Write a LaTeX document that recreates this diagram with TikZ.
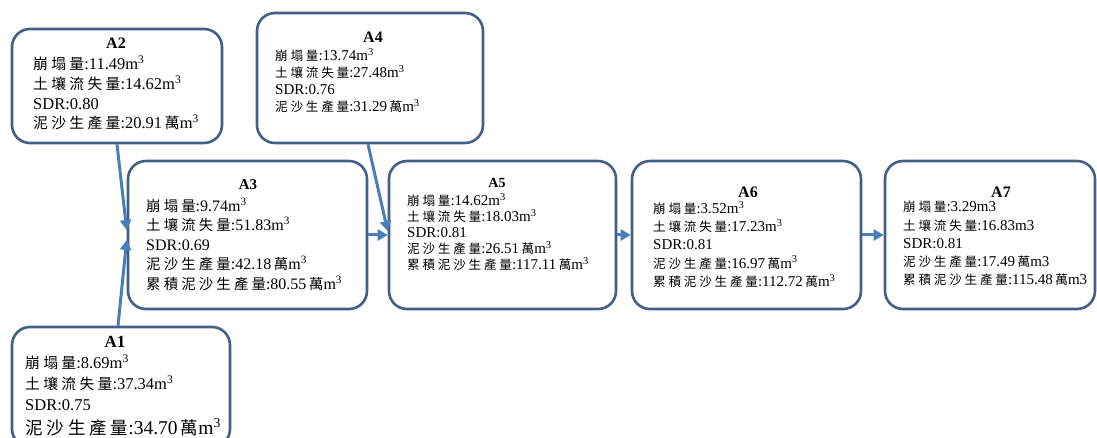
\documentclass[tikz,border=0pt]{standalone}
\usepackage{fontspec}
\setmainfont{Liberation Serif}
\newfontfamily\zhf[Scale=0.9,LetterSpace=22]{Noto Sans CJK TC}
\newfontfamily\zhs[Scale=0.84,LetterSpace=22]{Noto Sans CJK TC}
\let\zhcur\zhf
\newcommand{\zh}[1]{{\zhcur #1}}
\newcommand{\wan}{\,\zh{萬}}
\newcommand{\mthree}{m\textsuperscript{3}}
\usetikzlibrary{arrows.meta}
\definecolor{boxc}{RGB}{66,95,136}
\definecolor{arrc}{RGB}{74,126,187}
\begin{document}
\begin{tikzpicture}[x=1pt,y=-1pt,
  box/.style={draw=boxc, line width=2.6pt, rounded corners=18pt, fill=white, inner sep=0pt},
  conn/.style={draw=arrc, line width=3pt, -{Triangle[length=10pt,width=11pt]}},
  ttl/.style={font=\fontsize{#1}{#1}\selectfont\bfseries, inner sep=0pt},
  txt/.style 2 args={anchor=north west, align=left, inner sep=0pt, font=\fontsize{#1}{#2}\selectfont},
  small/.style={font=\fontsize{15}{#1}\selectfont\let\zhcur\zhs}
]
\useasboundingbox (0,0) rectangle (1097,438);
\clip (0,0) rectangle (1097,438);
\fill[white] (0,0) rectangle (1097,438);

% boxes
\node[box, minimum width=210pt, minimum height=114pt] (A2) at (117,86) {};
\node[box, minimum width=226pt, minimum height=130pt] (A4) at (370,78) {};
\node[box, minimum width=239pt, minimum height=148pt] (A3) at (247.5,235) {};
\node[box, minimum width=227pt, minimum height=148pt] (A5) at (502.5,235) {};
\node[box, minimum width=229pt, minimum height=148pt] (A6) at (746.5,235) {};
\node[box, minimum width=210pt, minimum height=148pt] (A7) at (990,235) {};
\node[box, minimum width=218pt, minimum height=120pt] (A1) at (121,387) {};

% titles
\node[ttl=16] (A2t) at (116,43) {A2};
\node[ttl=16] (A4t) at (373,37) {A4};
\node[ttl=15] (A3t) at (248,185) {A3};
\node[ttl=14] (A5t) at (497,183) {A5};
\node[ttl=16] (A6t) at (748,192) {A6};
\node[ttl=16] (A7t) at (1001,192) {A7};
\node[ttl=17] (A1t) at (115,342) {A1};

% bodies
\node[txt={16.5}{19.7}] (A2b) at (33,55.5) {\zh{崩塌量}:11.49\mthree\\ \zh{土壤流失量}:14.62\mthree\\ SDR:0.80\\ \zh{泥沙生產量}:20.91\wan\mthree};
\node[txt={15}{17}, small=17] (A4b) at (275,48.5) {\zh{崩塌量}:13.74\mthree\\ \zh{土壤流失量}:27.48\mthree\\ SDR:0.76\\ \zh{泥沙生產量}:31.29\wan\mthree};
\node[txt={16}{19.5}] (A3b) at (146,197.5) {\zh{崩塌量}:9.74\mthree\\ \zh{土壤流失量}:51.83\mthree\\ SDR:0.69\\ \zh{泥沙生產量}:42.18\wan\mthree\\ \zh{累積泥沙生產量}:80.55\wan\mthree};
\node[txt={15}{16}, small=16] (A5b) at (407,193.5) {\zh{崩塌量}:14.62\mthree\\ \zh{土壤流失量}:18.03\mthree\\ SDR:0.81\\ \zh{泥沙生產量}:26.51\wan\mthree\\ \zh{累積泥沙生產量}:117.11\wan\mthree};
\node[txt={15}{18.25}, small=18.25] (A6b) at (653,201) {\zh{崩塌量}:3.52\mthree\\ \zh{土壤流失量}:17.23\mthree\\ SDR:0.81\\ \zh{泥沙生產量}:16.97\wan\mthree\\ \zh{累積泥沙生產量}:112.72\wan\mthree};
\node[txt={15}{18.25}, small=18.25] (A7b) at (903,201) {\zh{崩塌量}:3.29m3\\ \zh{土壤流失量}:16.83m3\\ SDR:0.81\\ \zh{泥沙生產量}:17.49\wan m3\\ \zh{累積泥沙生產量}:115.48\wan m3};
\node[txt={16.5}{21}] (A1b) at (25,354.5) {\zh{崩塌量}:8.69\mthree\\ \zh{土壤流失量}:37.34\mthree\\ SDR:0.75\\[3pt] {\fontsize{19.5}{21}\selectfont\zh{泥沙生產量}:34.70\wan\mthree}};

% connectors
\draw[conn] (A2.south) -- ([yshift=5pt]A3.west);
\draw[conn] ([xshift=-3pt]A1.north) -- ([yshift=-5pt]A3.west);
\draw[conn] ([xshift=-2pt]A4.south) -- ([yshift=4pt]A5.west);
\draw[conn] (A3.east) -- (A5.west);
\draw[conn] (A5.east) -- (A6.west);
\draw[conn] (A6.east) -- (A7.west);
\end{tikzpicture}
\end{document}
